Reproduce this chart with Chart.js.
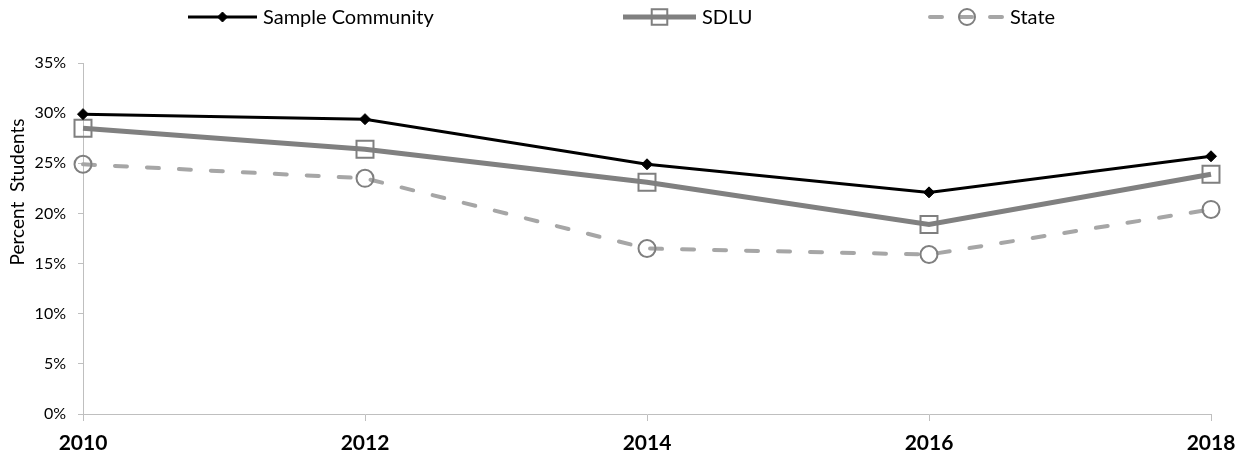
<!DOCTYPE html>
<html>
<head>
<meta charset="utf-8">
<script src="https://cdn.jsdelivr.net/npm/chart.js@4.4.1/dist/chart.umd.min.js"></script>
<style>
  html, body { margin: 0; padding: 0; background: #ffffff; }
  #wrap { width: 1243px; height: 460px; position: relative; }
</style>
</head>
<body>
<div id="wrap"><canvas id="c" width="1243" height="460"></canvas></div>
<script>
const categories = ['2010', '2012', '2014', '2016', '2018'];
const sampleCommunity = [29.9, 29.4, 24.9, 22.1, 25.7];
const sdlu = [28.5, 26.4, 23.1, 18.9, 23.9];
const state = [24.9, 23.5, 16.5, 15.9, 20.4];
const seriesNames = ['Sample Community', 'SDLU', 'State'];
const yTicks = [0, 5, 10, 15, 20, 25, 30, 35];
const yAxisTitle = 'Percent  Students';

const FONT = 'Lato, "Liberation Sans", sans-serif';

// legend drawn as line sample + marker + label, like the spreadsheet legend
const legendPlugin = {
  id: 'lineLegend',
  afterDraw(chart, args, opts) {
    const ctx = chart.ctx;
    const y = opts.y;
    chart.data.datasets.forEach((ds, i) => {
      const x0 = opts.xs[i];
      const len = opts.lengths[i];
      ctx.save();
      ctx.strokeStyle = ds.borderColor;
      ctx.lineWidth = ds.borderWidth;
      ctx.lineCap = ds.borderCapStyle || 'butt';
      ctx.setLineDash(opts.dashes[i] || []);
      ctx.beginPath();
      ctx.moveTo(x0, y);
      ctx.lineTo(x0 + len, y);
      ctx.stroke();
      ctx.setLineDash([]);
      ctx.fillStyle = ds.pointBackgroundColor;
      ctx.strokeStyle = ds.pointBorderColor;
      ctx.lineWidth = ds.pointBorderWidth;
      Chart.helpers.drawPoint(ctx, {
        pointStyle: ds.pointStyle,
        radius: opts.radii[i],
        borderWidth: ds.pointBorderWidth
      }, x0 + len / 2, y);
      ctx.restore();
      ctx.save();
      ctx.fillStyle = '#000000';
      ctx.font = opts.font;
      ctx.textBaseline = 'middle';
      ctx.textAlign = 'left';
      ctx.fillText(ds.label, x0 + len + opts.gap, y + 1);
      ctx.restore();
    });
    // vertical axis title
    ctx.save();
    ctx.translate(opts.titleX, opts.titleY);
    ctx.rotate(-Math.PI / 2);
    ctx.fillStyle = '#000000';
    ctx.font = opts.titleFont;
    ctx.textAlign = 'center';
    ctx.textBaseline = 'middle';
    ctx.fillText(yAxisTitle, 0, 0);
    ctx.restore();
  }
};

const ctx = document.getElementById('c').getContext('2d');
const chart = new Chart(ctx, {
  type: 'line',
  data: {
    labels: categories,
    datasets: [
      {
        label: seriesNames[0],
        data: sampleCommunity,
        borderColor: '#000000',
        borderWidth: 3,
        pointStyle: 'rectRot',
        pointRadius: 5.5,
        pointBorderWidth: 1,
        pointBackgroundColor: '#000000',
        pointBorderColor: '#000000',
        tension: 0,
        order: 1
      },
      {
        label: seriesNames[1],
        data: sdlu,
        borderColor: '#808080',
        borderWidth: 5,
        pointStyle: 'rect',
        pointRadius: 12,
        pointBorderWidth: 2,
        pointBackgroundColor: 'rgba(0,0,0,0)',
        pointBorderColor: '#7f7f7f',
        tension: 0,
        order: 2
      },
      {
        label: seriesNames[2],
        data: state,
        borderColor: '#a6a6a6',
        borderWidth: 4,
        borderDash: [12, 20],
        borderCapStyle: 'round',
        pointStyle: 'circle',
        pointRadius: 8.5,
        pointBorderWidth: 2,
        pointBackgroundColor: 'rgba(0,0,0,0)',
        pointBorderColor: '#7f7f7f',
        tension: 0,
        order: 3
      }
    ]
  },
  options: {
    responsive: false,
    animation: false,
    devicePixelRatio: 1,
    layout: { padding: { top: 63, right: 32, left: 0, bottom: 0 } },
    plugins: {
      legend: { display: false },
      tooltip: { enabled: false },
      lineLegend: {
        y: 17,
        xs: [188, 623, 930],
        lengths: [69, 73, 74],
        radii: [5, 11, 8],
        dashes: [[], [], [12, 18]],
        gap: 6,
        font: '20px ' + FONT,
        titleX: 18,
        titleY: 192,
        titleFont: '19px ' + FONT
      }
    },
    scales: {
      x: {
        type: 'category',
        offset: false,
        afterFit(scale) {
          scale.height = 46;
          scale.paddingLeft = 0;
          scale.paddingRight = 0;
        },
        grid: {
          display: true,
          drawOnChartArea: false,
          drawTicks: true,
          tickLength: 7,
          color: '#bfbfbf'
        },
        border: { display: true, color: '#bfbfbf', width: 1 },
        ticks: {
          color: '#000000',
          font: { family: FONT, size: 21, weight: 'bold' },
          padding: 10,
          maxRotation: 0,
          autoSkip: false
        }
      },
      y: {
        min: 0,
        max: 35,
        afterBuildTicks(axis) { axis.ticks = yTicks.map(v => ({ value: v })); },
        afterFit(scale) {
          scale.width = 83;
          scale.paddingTop = 0;
          scale.paddingBottom = 0;
        },
        grid: {
          display: true,
          drawOnChartArea: false,
          drawTicks: true,
          tickLength: 5,
          color: '#bfbfbf'
        },
        border: { display: true, color: '#bfbfbf', width: 1 },
        ticks: {
          color: '#000000',
          font: { family: FONT, size: 16 },
          padding: 12,
          callback: (v) => v + '%'
        }
      }
    }
  },
  plugins: [legendPlugin]
});
</script>
</body>
</html>
